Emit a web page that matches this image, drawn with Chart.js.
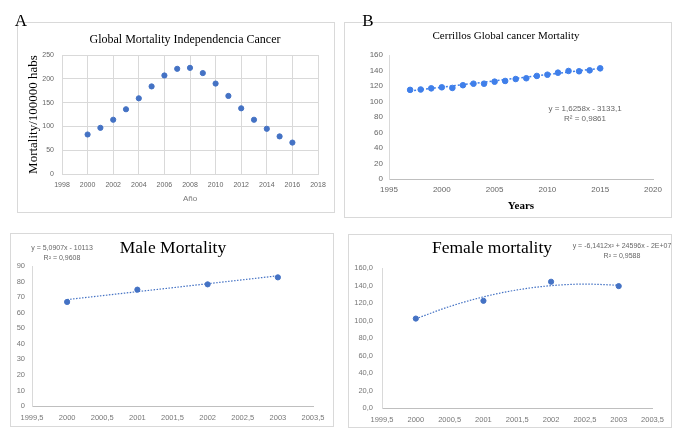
<!DOCTYPE html>
<html>
<head>
<meta charset="utf-8">
<script src="https://cdn.jsdelivr.net/npm/chart.js@4.4.1/dist/chart.umd.min.js"></script>
<style>
  html, body { margin: 0; padding: 0; background: #fff; }
  body { width: 687px; height: 432px; position: relative; overflow: hidden; font-family: "Liberation Serif", serif; }
  .box { position: absolute; border: 1px solid #d9d9d9; box-sizing: border-box; }
  .box canvas { position: absolute; left: 0; top: 0; }
  .txt { position: absolute; white-space: nowrap; transform: translate(-50%, -50%); }
  .letter { font-size: 17px; color: #000; }
  .eq { font-family: "Liberation Sans", sans-serif; font-size: 7px; color: #666; text-align: center; line-height: 10px; }
</style>
</head>
<body>

<div class="box" id="boxA" style="left:17px; top:22px; width:318px; height:191px;"><canvas id="chartA" width="316" height="189"></canvas></div>
<div class="box" id="boxB" style="left:344px; top:22px; width:328px; height:196px;"><canvas id="chartB" width="326" height="194"></canvas></div>
<div class="box" id="boxC" style="left:10px; top:233px; width:324px; height:194px;"><canvas id="chartC" width="322" height="192"></canvas></div>
<div class="box" id="boxD" style="left:348px; top:234px; width:324px; height:194px;"><canvas id="chartD" width="322" height="192"></canvas></div>

<div class="txt letter" style="left:21px; top:21px;">A</div>
<div class="txt letter" style="left:368px; top:21px;">B</div>

<div class="txt" style="left:185px; top:39px; font-size:12px;">Global Mortality Independencia Cancer</div>
<div class="txt" style="left:506px; top:35px; font-size:11px;">Cerrillos Global cancer Mortality</div>
<div class="txt" style="left:173px; top:247px; font-size:17.5px;">Male Mortality</div>
<div class="txt" style="left:492px; top:247px; font-size:17.5px;">Female mortality</div>

<div class="txt eq" style="left:585px; top:114px; font-size:8px;">y = 1,6258x - 3133,1<br>R² = 0,9861</div>
<div class="txt eq" style="left:62px; top:253px;">y = 5,0907x - 10113<br>R² = 0,9608</div>
<div class="txt eq" style="left:622px; top:251px;">y = -6,1412x² + 24596x - 2E+07<br>R² = 0,9588</div>

<script>
// A: Independencia
const yearsA = [2000, 2001, 2002, 2003, 2004, 2005, 2006, 2007, 2008, 2009, 2010, 2011, 2012, 2013, 2014, 2015, 2016];
const mortalityA = [83, 97, 114, 136, 159, 184, 207, 221, 223, 212, 190, 164, 138, 114, 95, 79, 66];

// B: Cerrillos
const yearsB = [1997, 1998, 1999, 2000, 2001, 2002, 2003, 2004, 2005, 2006, 2007, 2008, 2009, 2010, 2011, 2012, 2013, 2014, 2015];
const mortalityB = [115, 115.5, 117, 118.3, 117.5, 121, 123, 123, 125.6, 126.5, 129, 130, 133, 134.6, 137.2, 139.4, 139, 140.2, 142.8];
const trendYearsB = [1997, 2015];
const trendB = [113.6, 142.9];

// C / D: male and female
const yearsMF = [2000, 2001, 2002, 2003];
const male = [66.9, 74.8, 78.2, 82.7];
const maleTrendYears = [2000, 2003];
const maleTrend = [68.4, 83.7];
const female = [102.2, 122.5, 144.3, 139.3];
const femaleTrendYears = [2000, 2000.5, 2001, 2001.5, 2002, 2002.5, 2003];
const femaleTrend = [102, 116, 127, 135, 139.8, 141.6, 140.3];

const ticksA = { min: 0, max: 250, step: 50 };
const ticksB = { min: 0, max: 160, step: 20 };

const pts = (xs, ys) => xs.map((x, i) => ({ x: x, y: ys[i] }));
const plain = v => String(v);
const comma = v => String(v).replace('.', ',');
const sans = 'Liberation Sans, Arial, sans-serif';
const serif = 'Liberation Serif, Times New Roman, serif';

function fixed(w, h) {
  return s => { if (w != null) s.width = w; if (h != null) s.height = h; };
}

const base = {
  responsive: false,
  animation: false,
  plugins: { legend: { display: false }, tooltip: { enabled: false } }
};

// chart A
new Chart(document.getElementById('chartA'), {
  type: 'scatter',
  data: { datasets: [{
    data: pts(yearsA, mortalityA),
    backgroundColor: '#4472C4', borderColor: '#4472C4', pointRadius: 2.6
  }] },
  options: Object.assign({}, base, {
    layout: { padding: { top: 32, right: 16, left: 0, bottom: 8 } },
    scales: {
      x: {
        type: 'linear', min: 1998, max: 2018,
        afterFit: fixed(null, 30),
        grid: { color: '#d9d9d9', drawTicks: false },
        border: { color: '#d9d9d9' },
        ticks: { stepSize: 2, autoSkip: false, padding: 7, color: '#666', font: { family: sans, size: 7 }, callback: plain },
        title: { display: true, text: 'Año', color: '#777', font: { family: sans, size: 8 }, padding: { top: 4, bottom: 0 } }
      },
      y: {
        min: ticksA.min, max: ticksA.max,
        afterFit: fixed(44, null),
        grid: { color: '#d9d9d9', drawTicks: false },
        border: { display: false },
        ticks: { stepSize: ticksA.step, padding: 8, color: '#666', font: { family: sans, size: 7 } },
        title: { display: true, text: 'Mortality/100000 habs', color: '#000', font: { family: serif, size: 13 }, padding: { top: 8, bottom: 0 } }
      }
    }
  })
});

// chart B
new Chart(document.getElementById('chartB'), {
  type: 'scatter',
  data: { datasets: [
    {
      data: pts(yearsB, mortalityB),
      backgroundColor: '#3F7FEA', borderColor: '#3F7FEA', pointRadius: 2.8
    },
    {
      type: 'line', data: pts(trendYearsB, trendB),
      borderColor: '#3F7FEA', borderWidth: 1.5, borderDash: [2, 2], pointRadius: 0, fill: false
    }
  ] },
  options: Object.assign({}, base, {
    layout: { padding: { top: 32, right: 18, left: 0, bottom: 4 } },
    scales: {
      x: {
        type: 'linear', min: 1995, max: 2020,
        afterFit: fixed(null, 34),
        grid: { display: false, drawTicks: false },
        border: { color: '#bfbfbf' },
        ticks: { stepSize: 5, autoSkip: false, padding: 6, color: '#666', font: { family: sans, size: 8 }, callback: plain },
        title: { display: true, text: 'Years', color: '#000', font: { family: serif, size: 11, weight: 'bold' }, padding: { top: 4, bottom: 0 } }
      },
      y: {
        min: ticksB.min, max: ticksB.max,
        afterFit: fixed(44, null),
        grid: { display: false, drawTicks: false },
        border: { color: '#d9d9d9' },
        ticks: { stepSize: ticksB.step, padding: 6, color: '#666', font: { family: sans, size: 8 } }
      }
    }
  })
});

// chart C
new Chart(document.getElementById('chartC'), {
  type: 'scatter',
  data: { datasets: [
    {
      data: pts(yearsMF, male),
      backgroundColor: '#4472C4', borderColor: '#4472C4', pointRadius: 2.6
    },
    {
      type: 'line', data: pts(maleTrendYears, maleTrend),
      borderColor: '#4472C4', borderWidth: 1.2, borderDash: [1.5, 1.5], pointRadius: 0, fill: false
    }
  ] },
  options: Object.assign({}, base, {
    layout: { padding: { top: 32, right: 20, left: 0, bottom: 0 } },
    scales: {
      x: {
        type: 'linear', min: 1999.5, max: 2003.5,
        afterFit: fixed(null, 20),
        grid: { display: false, drawTicks: false },
        border: { color: '#bfbfbf' },
        ticks: { stepSize: 0.5, autoSkip: false, padding: 7, color: '#777', font: { family: sans, size: 7.5 }, callback: comma }
      },
      y: {
        min: 0, max: 90,
        afterFit: fixed(21, null),
        grid: { display: false, drawTicks: false },
        border: { color: '#d9d9d9' },
        ticks: { stepSize: 10, padding: 7, color: '#777', font: { family: sans, size: 7.5 } }
      }
    }
  })
});

// chart D
new Chart(document.getElementById('chartD'), {
  type: 'scatter',
  data: { datasets: [
    {
      data: pts(yearsMF, female),
      backgroundColor: '#4472C4', borderColor: '#4472C4', pointRadius: 2.6
    },
    {
      type: 'line', data: pts(femaleTrendYears, femaleTrend),
      borderColor: '#4472C4', borderWidth: 1.2, borderDash: [1.5, 1.5], pointRadius: 0, fill: false,
      cubicInterpolationMode: 'monotone'
    }
  ] },
  options: Object.assign({}, base, {
    layout: { padding: { top: 33, right: 18, left: 0, bottom: 0 } },
    scales: {
      x: {
        type: 'linear', min: 1999.5, max: 2003.5,
        afterFit: fixed(null, 19),
        grid: { display: false, drawTicks: false },
        border: { color: '#bfbfbf' },
        ticks: { stepSize: 0.5, autoSkip: false, padding: 7, color: '#777', font: { family: sans, size: 7.5 }, callback: comma }
      },
      y: {
        min: 0, max: 160,
        afterFit: fixed(33, null),
        grid: { display: false, drawTicks: false },
        border: { color: '#d9d9d9' },
        ticks: { stepSize: 20, padding: 9, color: '#777', font: { family: sans, size: 7.5 }, callback: v => v.toFixed(1).replace('.', ',') }
      }
    }
  })
});
</script>
</body>
</html>
